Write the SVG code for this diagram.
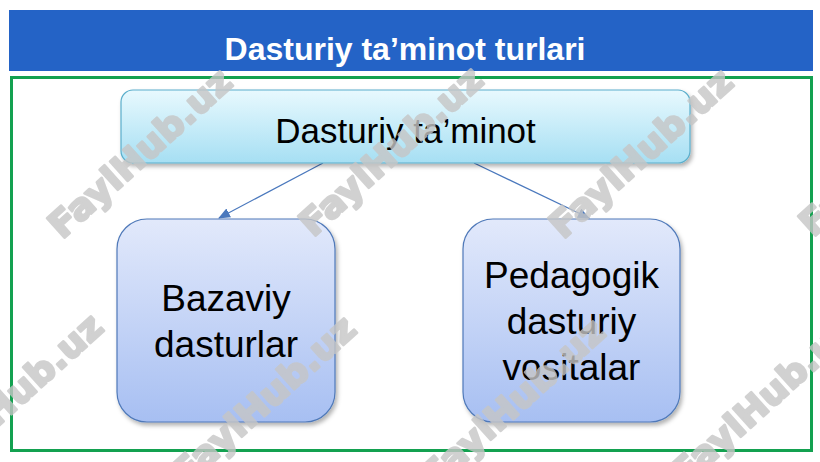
<svg xmlns="http://www.w3.org/2000/svg" width="820" height="462" viewBox="0 0 820 462">
<defs>
<style>
.title{font-family:"Liberation Sans",Arial,sans-serif;font-weight:bold;font-size:32px;fill:#ffffff;text-anchor:middle}
.lbl{font-family:"Liberation Sans",Arial,sans-serif;font-size:37px;fill:#000000;text-anchor:middle}
.conn{stroke:#4a78bd;stroke-width:1.2;fill:none}
.wm{font-family:"DejaVu Sans","Liberation Sans",sans-serif;font-weight:bold;font-size:36px;fill:#c6c6c6;stroke:#c6c6c6;stroke-width:2.5;stroke-linejoin:round;opacity:0.8}
</style>
<linearGradient id="gTop" x1="0" y1="0" x2="0" y2="1">
<stop offset="0" stop-color="#e8f9fe"/>
<stop offset="1" stop-color="#a6dff3"/>
</linearGradient>
<linearGradient id="gBox" x1="0" y1="0" x2="0" y2="1">
<stop offset="0" stop-color="#e2e9fb"/>
<stop offset="1" stop-color="#a7bff2"/>
</linearGradient>
<filter id="sh" x="-10%" y="-10%" width="125%" height="130%">
<feDropShadow dx="2" dy="3" stdDeviation="2" flood-color="#000000" flood-opacity="0.3"/>
</filter>
<marker id="arr" markerWidth="12" markerHeight="10" refX="11" refY="5" orient="auto" markerUnits="userSpaceOnUse">
<path d="M0,0 L12,5 L0,10 Z" fill="#4a78bd"/>
</marker>
</defs>
<rect x="0" y="0" width="820" height="462" fill="#ffffff"/>
<g id="header">
<rect x="9" y="10" width="804" height="61" fill="#2463c6"/>
<text class="title" x="405" y="60">Dasturiy ta’minot turlari</text>
</g>
<rect id="frame" x="11.5" y="77.5" width="800" height="373" fill="none" stroke="#13a150" stroke-width="3"/>
<g id="connectors">
<line class="conn" x1="323" y1="163" x2="219" y2="218" marker-end="url(#arr)"/>
<line class="conn" x1="474" y1="163" x2="589" y2="218" marker-end="url(#arr)"/>
</g>
<g id="node-root">
<rect x="121" y="90" width="569" height="73" rx="12" fill="url(#gTop)" stroke="#5aaecb" stroke-width="1.2" filter="url(#sh)"/>
<text class="lbl" x="405.5" y="143" style="font-size:35px">Dasturiy ta’minot</text>
</g>
<g id="node-bazaviy">
<rect x="117" y="219" width="218" height="203" rx="30" fill="url(#gBox)" stroke="#4f79b9" stroke-width="1.2" filter="url(#sh)"/>
<text class="lbl" x="226" y="311">Bazaviy</text>
<text class="lbl" x="226" y="357">dasturlar</text>
</g>
<g id="node-pedagogik">
<rect x="463" y="219" width="217" height="203" rx="30" fill="url(#gBox)" stroke="#4f79b9" stroke-width="1.2" filter="url(#sh)"/>
<text class="lbl" x="571.5" y="288">Pedagogik</text>
<text class="lbl" x="571.5" y="334">dasturiy</text>
<text class="lbl" x="571.5" y="380">vositalar</text>
</g>
<g id="watermark">
<text class="wm" transform="translate(62,240) rotate(-42)" textLength="232" lengthAdjust="spacingAndGlyphs">FaylHub.uz</text>
<text class="wm" transform="translate(313,238) rotate(-42)" textLength="232" lengthAdjust="spacingAndGlyphs">FaylHub.uz</text>
<text class="wm" transform="translate(563,240) rotate(-42)" textLength="232" lengthAdjust="spacingAndGlyphs">FaylHub.uz</text>
<text class="wm" transform="translate(813,238) rotate(-42)" textLength="232" lengthAdjust="spacingAndGlyphs">FaylHub.uz</text>
<text class="wm" transform="translate(-67,485) rotate(-42)" textLength="232" lengthAdjust="spacingAndGlyphs">FaylHub.uz</text>
<text class="wm" transform="translate(186,487) rotate(-42)" textLength="232" lengthAdjust="spacingAndGlyphs">FaylHub.uz</text>
<text class="wm" transform="translate(435,490) rotate(-42)" textLength="232" lengthAdjust="spacingAndGlyphs">FaylHub.uz</text>
<text class="wm" transform="translate(685,487) rotate(-42)" textLength="232" lengthAdjust="spacingAndGlyphs">FaylHub.uz</text>
</g>
</svg>
